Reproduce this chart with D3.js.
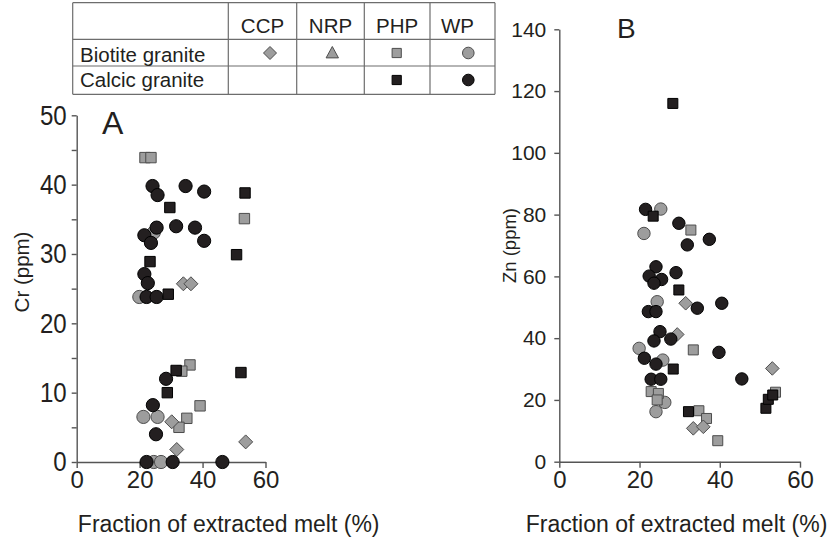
<!DOCTYPE html>
<html>
<head>
<meta charset="utf-8">
<script src="https://cdn.jsdelivr.net/npm/d3@7"></script>
<style>
  html, body { margin: 0; padding: 0; background: #fff; }
  svg { display: block; }
  text { font-family: Arial, "Liberation Sans", sans-serif; fill: #231f20; }
</style>
</head>
<body>
<svg id="chart" width="830" height="540"></svg>
<script>
// ---- legend table headings ----
const plutons = ["CCP", "NRP", "PHP", "WP"];
const rockTypes = ["Biotite granite", "Calcic granite"];

// ---- axis ticks ----
const xTicks = [0, 20, 40, 60];
const crTicks = [0, 5, 10, 15, 20, 25, 30, 35, 40, 45, 50];
const znTicks = [0, 20, 40, 60, 80, 100, 120, 140];

// ---- Panel A: Cr (ppm) vs fraction of extracted melt (%) ----
const crBiotiteCCP = [[33.9, 25.7], [36.3, 25.7], [30.2, 5.8], [31.8, 1.8], [53.7, 2.9]];
const crBiotiteNRP = [];
const crBiotitePHP = [[21.7, 43.9], [23.6, 43.9], [53.3, 35.1], [36.0, 14.0], [33.4, 13.1],
                      [39.2, 8.1], [35.0, 6.3], [32.5, 5.0]];
const crBiotiteWP = [[24.5, 33.1], [19.9, 23.8], [21.2, 6.5], [25.7, 6.5], [24.5, 0], [26.8, 0]];
const crCalcicPHP = [[53.5, 38.8], [29.6, 36.7], [50.8, 29.9], [23.3, 28.9], [29.1, 24.2],
                     [31.6, 13.2], [52.2, 12.9], [28.8, 10.0]];
const crCalcicWP = [[24.1, 39.8], [25.7, 38.5], [34.6, 39.8], [40.5, 39.0], [25.4, 33.8],
                    [31.6, 34.0], [37.6, 33.8], [40.5, 31.9], [21.5, 32.7], [23.6, 31.6],
                    [21.5, 27.1], [22.6, 25.8], [22.2, 23.8], [25.4, 23.8], [28.4, 12.0],
                    [24.2, 8.2], [25.2, 4.0], [22.2, 0], [30.5, 0], [46.3, 0]];

// ---- Panel B: Zn (ppm) vs fraction of extracted melt (%) ----
const znBiotiteCCP = [[31.5, 51.3], [29.4, 41.2], [53.1, 30.2], [33.4, 10.8], [35.9, 11.3]];
const znBiotiteNRP = [];
const znBiotitePHP = [[32.8, 75.0], [33.4, 36.2], [22.9, 22.7], [24.7, 22.1], [24.4, 20.0],
                      [34.8, 16.5], [36.7, 14.0], [39.5, 6.8], [53.9, 22.5]];
const znBiotiteWP = [[25.3, 81.8], [21.1, 73.9], [24.4, 51.8], [19.9, 36.7], [25.8, 32.9],
                     [26.3, 19.2], [24.1, 16.2]];
const znCalcicPHP = [[28.3, 116.0], [23.4, 79.5], [29.8, 55.6], [28.4, 30.0], [32.2, 16.2],
                     [51.5, 17.3], [52.1, 20.2], [53.2, 21.6]];
const znCalcicWP = [[21.5, 81.7], [29.8, 77.2], [37.4, 72.0], [31.9, 70.2], [24.1, 63.1],
                    [22.4, 60.1], [25.5, 59.0], [23.6, 57.8], [29.1, 61.2], [34.4, 49.7],
                    [40.5, 51.3], [22.2, 48.6], [24.1, 48.6], [25.1, 42.1], [23.6, 39.1],
                    [27.8, 39.7], [39.8, 35.4], [21.2, 33.5], [24.1, 31.6], [22.9, 26.7],
                    [25.3, 26.7], [45.5, 26.8]];

const INK = "#231f20";
const GREY = "#9d9d9d";
const GREY_EDGE = "#4d4d4d";
const AXIS = "#555";

const svg = d3.select("#chart");

// marker shapes, centred on (0,0)
const shapes = {
  diamond: s => `M0,${-s}L${s},0L0,${s}L${-s},0Z`,
  square: s => `M${-s},${-s}H${s}V${s}H${-s}Z`,
  triangle: s => `M0,${-s}L${s * 0.95},${s * 0.75}L${-s * 0.95},${s * 0.75}Z`
};

function drawMarker(g, kind, fill, stroke, size) {
  if (kind === "circle") {
    return g.append("circle").attr("r", size).attr("fill", fill)
      .attr("stroke", stroke).attr("stroke-width", 1);
  }
  return g.append("path").attr("d", shapes[kind](size)).attr("fill", fill)
    .attr("stroke", stroke).attr("stroke-width", 1);
}

// ---- legend table ----
const table = svg.append("g");
const colEdges = [72.7, 228.3, 296.7, 364.3, 430, 495];
const rowEdges = [2.7, 39.3, 66, 94.3];
const lineStyle = sel => sel.attr("stroke", "#6d6d6d").attr("stroke-width", 1.2).attr("fill", "none");
colEdges.forEach(x => table.append("line").attr("x1", x).attr("x2", x)
  .attr("y1", rowEdges[0]).attr("y2", rowEdges[3]).call(lineStyle));
rowEdges.forEach(y => table.append("line").attr("x1", colEdges[0]).attr("x2", colEdges[5])
  .attr("y1", y).attr("y2", y).call(lineStyle));

const colCentre = i => (colEdges[i + 1] + colEdges[i + 2]) / 2;
plutons.forEach((p, i) => table.append("text")
  .attr("x", colCentre(i) + (p === "WP" ? -5 : 0)).attr("y", 33)
  .attr("text-anchor", "middle").attr("font-size", 20.5).text(p));
rockTypes.forEach((r, i) => table.append("text")
  .attr("x", 80).attr("y", i === 0 ? 61.5 : 86.5).attr("font-size", 20.5).text(r));

const legendMarks = [
  { row: 0, col: 0, kind: "diamond", fill: GREY, stroke: GREY_EDGE, size: 6.5 },
  { row: 0, col: 1, kind: "triangle", fill: GREY, stroke: GREY_EDGE, size: 6.5 },
  { row: 0, col: 2, kind: "square", fill: GREY, stroke: GREY_EDGE, size: 4.6 },
  { row: 0, col: 3, kind: "circle", fill: GREY, stroke: GREY_EDGE, size: 5.8 },
  { row: 1, col: 2, kind: "square", fill: INK, stroke: "#000", size: 4.6 },
  { row: 1, col: 3, kind: "circle", fill: INK, stroke: "#000", size: 5.8 }
];
legendMarks.forEach(m => {
  const cx = [270, 332.3, 396.7, 468.3][m.col];
  const cy = [53, 80][m.row];
  const g = table.append("g").attr("transform", `translate(${cx},${cy})`);
  drawMarker(g, m.kind, m.fill, m.stroke, m.size);
});

// ---- shared panel drawing ----
function styleAxis(g) {
  g.selectAll(".domain").attr("stroke", AXIS).attr("stroke-width", 1.4);
  g.selectAll(".tick line").attr("stroke", AXIS).attr("stroke-width", 1.4);
  g.selectAll(".tick text").attr("fill", INK).style("font-family", "Arial, 'Liberation Sans', sans-serif");
}

function drawPanel(p) {
  const x = d3.scaleLinear().domain([0, 60]).range(p.xRange);
  const y = d3.scaleLinear().domain(p.yDomain).range(p.yRange);
  const g = svg.append("g");

  const yAxis = d3.axisLeft(y).tickValues(p.yTicks).tickSize(5).tickSizeOuter(0)
    .tickPadding(p.yPad).tickFormat(d => p.yLabelled(d) ? d : "");
  const gy = g.append("g").attr("transform", `translate(${p.xRange[0]},0)`).call(yAxis);
  // tick labels: right edge pinned beside the tick, glyphs optionally narrowed
  gy.selectAll(".tick text").attr("font-size", p.yFont).attr("x", 0)
    .attr("transform", `translate(${-(5 + p.yPad)},0) scale(${p.yNarrow},1)`);
  styleAxis(gy);

  const xAxis = d3.axisBottom(x).tickValues(xTicks).tickSize(6).tickSizeOuter(0).tickPadding(3);
  const gx = g.append("g").attr("transform", `translate(0,${p.yRange[0]})`).call(xAxis);
  gx.selectAll(".tick text").attr("font-size", 24);
  styleAxis(gx);

  g.append("text").attr("x", p.titleX).attr("y", 531.5).attr("text-anchor", "middle")
    .attr("font-size", 23).text("Fraction of extracted melt (%)");
  g.append("text").attr("transform", `translate(${p.yTitleX},${p.yTitleY}) rotate(-90)`)
    .attr("text-anchor", "middle").attr("font-size", p.yTitleFont).text(p.yTitle);
  g.append("text").attr("x", p.letterX).attr("y", p.letterY)
    .attr("font-size", p.letterFont).text(p.letter);

  const series = [
    { data: p.series.bioWP, kind: "circle", fill: GREY, stroke: GREY_EDGE, size: p.r },
    { data: p.series.bioPHP, kind: "square", fill: GREY, stroke: GREY_EDGE, size: p.half },
    { data: p.series.bioCCP, kind: "diamond", fill: GREY, stroke: GREY_EDGE, size: p.diag },
    { data: p.series.bioNRP, kind: "triangle", fill: GREY, stroke: GREY_EDGE, size: p.diag },
    { data: p.series.calWP, kind: "circle", fill: INK, stroke: "#000", size: p.r },
    { data: p.series.calPHP, kind: "square", fill: INK, stroke: "#000", size: p.half }
  ];
  series.forEach(s => {
    s.data.forEach(d => {
      const m = g.append("g").attr("transform", `translate(${x(d[0])},${y(d[1])})`);
      drawMarker(m, s.kind, s.fill, s.stroke, s.size);
    });
  });
}

drawPanel({
  xRange: [76.7, 265.5], yDomain: [0, 50], yRange: [462, 115.3],
  yTicks: crTicks, yLabelled: d => d % 10 === 0, yFont: 28, yNarrow: 0.86, yPad: 5,
  titleX: 228.7, yTitle: "Cr (ppm)", yTitleX: 29, yTitleY: 272, yTitleFont: 20.5,
  letter: "A", letterX: 102, letterY: 133.5, letterFont: 32,
  r: 6.6, half: 5.2, diag: 7,
  series: { bioCCP: crBiotiteCCP, bioNRP: crBiotiteNRP, bioPHP: crBiotitePHP,
            bioWP: crBiotiteWP, calPHP: crCalcicPHP, calWP: crCalcicWP }
});

drawPanel({
  xRange: [559.3, 800], yDomain: [0, 140], yRange: [461.7, 29.3],
  yTicks: znTicks, yLabelled: () => true, yFont: 21, yNarrow: 1, yPad: 8,
  titleX: 676.5, yTitle: "Zn (ppm)", yTitleX: 516, yTitleY: 245.5, yTitleFont: 18.5,
  letter: "B", letterX: 617, letterY: 38.3, letterFont: 28,
  r: 6.2, half: 5, diag: 6.8,
  series: { bioCCP: znBiotiteCCP, bioNRP: znBiotiteNRP, bioPHP: znBiotitePHP,
            bioWP: znBiotiteWP, calPHP: znCalcicPHP, calWP: znCalcicWP }
});
</script>
</body>
</html>
